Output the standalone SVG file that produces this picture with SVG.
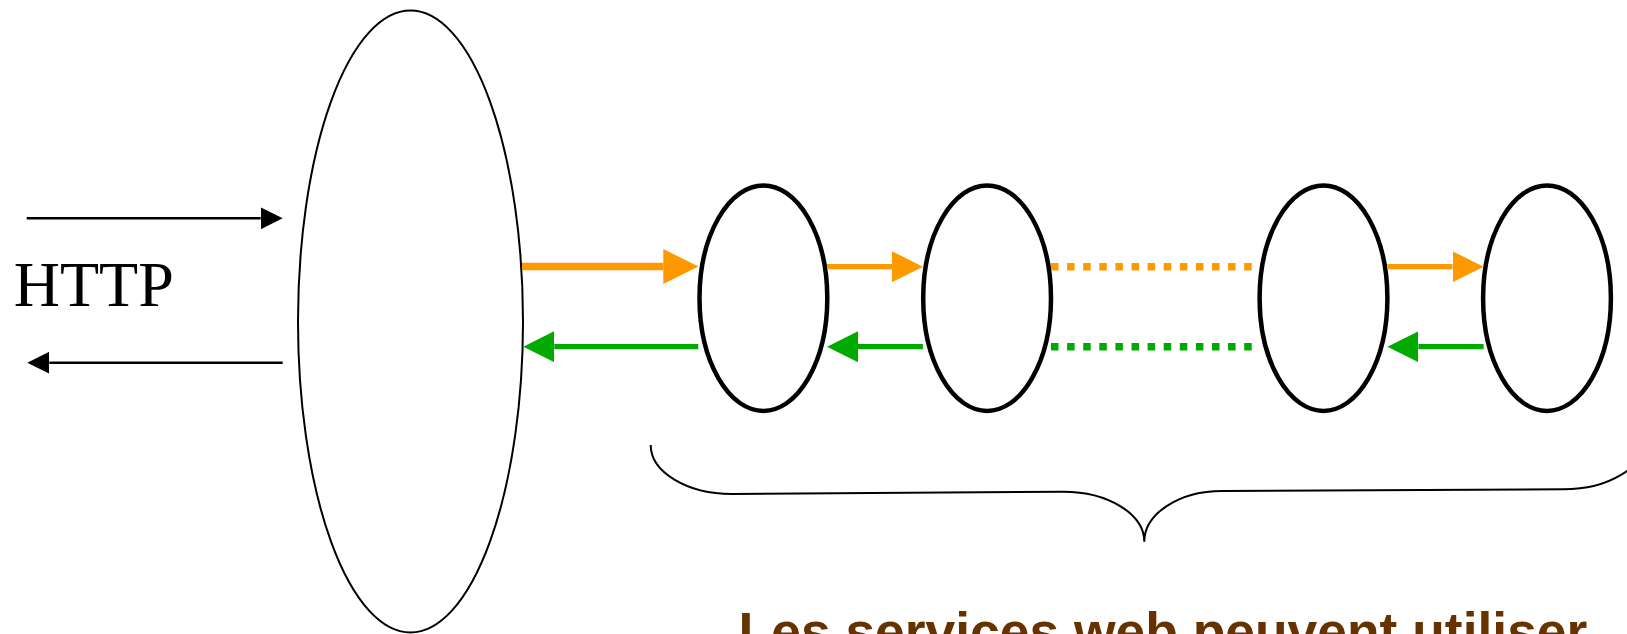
<svg xmlns="http://www.w3.org/2000/svg" width="1627" height="634" viewBox="0 0 1627 634">
  <defs>
    <style>
      .bg { fill: #ffffff; }
      .gateway { fill: none; stroke: #000000; stroke-width: 2; }
      .service { fill: none; stroke: #000000; stroke-width: 4.5; }
      .http { fill: none; stroke: #000000; stroke-width: 2.5; }
      .req { fill: none; stroke: #ff9900; stroke-width: 5.3; }
      .req-main { stroke-width: 7.5; }
      .resp { fill: none; stroke: #00aa00; stroke-width: 5.3; }
      .chain { stroke-width: 7.5; stroke-dasharray: 7.5 8.6; }
      .brace { fill: none; stroke: #000000; stroke-width: 2; }
      .label-http { font-family: "Liberation Serif", "Times New Roman", serif; font-size: 64px; fill: #000000; }
      .caption { font-family: "Liberation Sans", Arial, sans-serif; font-size: 53.4px; font-weight: bold; fill: #663300; }
    </style>
    <marker id="head-black" markerUnits="userSpaceOnUse" markerWidth="22" markerHeight="22" viewBox="0 0 22 22" refX="0" refY="11" orient="auto">
      <path d="M0,0 L22,11 L0,22 z" fill="#000000"/>
    </marker>
    <marker id="head-orange-lg" markerUnits="userSpaceOnUse" markerWidth="35" markerHeight="35" viewBox="0 0 35 35" refX="0" refY="17.5" orient="auto">
      <path d="M0,0 L35,17.5 L0,35 z" fill="#ff9900"/>
    </marker>
    <marker id="head-orange" markerUnits="userSpaceOnUse" markerWidth="31" markerHeight="31" viewBox="0 0 31 31" refX="0" refY="15.5" orient="auto">
      <path d="M0,0 L31,15.5 L0,31 z" fill="#ff9900"/>
    </marker>
    <marker id="head-green" markerUnits="userSpaceOnUse" markerWidth="31" markerHeight="31" viewBox="0 0 31 31" refX="0" refY="15.5" orient="auto">
      <path d="M0,0 L31,15.5 L0,31 z" fill="#00aa00"/>
    </marker>
  </defs>

  <rect class="bg" x="0" y="0" width="1627" height="634"/>

  <!-- HTTP label between the incoming and outgoing arrows -->
  <g id="http-label">
    <text class="label-http" x="13.8" y="306">HTTP</text>
  </g>

  <!-- front server -->
  <g id="gateway">
    <ellipse class="gateway" cx="410.5" cy="321.5" rx="112.5" ry="311"/>
  </g>

  <!-- chained web services -->
  <g id="service-1">
    <ellipse class="service" cx="763.4" cy="298.2" rx="63.9" ry="112.7"/>
  </g>
  <g id="service-2">
    <ellipse class="service" cx="987.1" cy="298.2" rx="63.9" ry="112.7"/>
  </g>
  <g id="service-3">
    <ellipse class="service" cx="1323.5" cy="298.2" rx="63.9" ry="112.7"/>
  </g>
  <g id="service-4">
    <ellipse class="service" cx="1547" cy="298.2" rx="63.9" ry="112.7"/>
  </g>

  <g id="connectors">
    <!-- HTTP request / response -->
    <line class="http" x1="26.7" y1="218.3" x2="260.7" y2="218.3" marker-end="url(#head-black)"/>
    <line class="http" x1="282.7" y1="362.7" x2="49.3" y2="362.7" marker-end="url(#head-black)"/>

    <!-- requests forwarded along the chain -->
    <line class="req req-main" x1="522" y1="266.5" x2="663.3" y2="266.5" marker-end="url(#head-orange-lg)"/>
    <line class="req" x1="827" y1="266.7" x2="892" y2="266.7" marker-end="url(#head-orange)"/>
    <line class="req chain" x1="1051" y1="266.7" x2="1252" y2="266.7"/>
    <line class="req" x1="1387.4" y1="266.7" x2="1452.6" y2="266.7" marker-end="url(#head-orange)"/>

    <!-- responses returned along the chain -->
    <line class="resp" x1="698.3" y1="346.7" x2="554.3" y2="346.7" marker-end="url(#head-green)"/>
    <line class="resp" x1="922.9" y1="346.7" x2="858" y2="346.7" marker-end="url(#head-green)"/>
    <line class="resp chain" x1="1051" y1="346.7" x2="1252" y2="346.7"/>
    <line class="resp" x1="1483.6" y1="346.7" x2="1418.4" y2="346.7" marker-end="url(#head-green)"/>
  </g>

  <!-- brace grouping the services -->
  <g id="services-brace">
    <path class="brace" d="M650.7,445 A81,49 0 0 0 731.7,494 L1063.3,491.7 A81,50 0 0 1 1144.3,541.7 A77.7,50.7 0 0 1 1222,491 L1563.7,489.3 A81,49 0 0 0 1644.7,440.3"/>
  </g>

  <g id="caption">
    <text class="caption" x="738.6" y="649.5">Les services web peuvent utiliser</text>
  </g>
</svg>
